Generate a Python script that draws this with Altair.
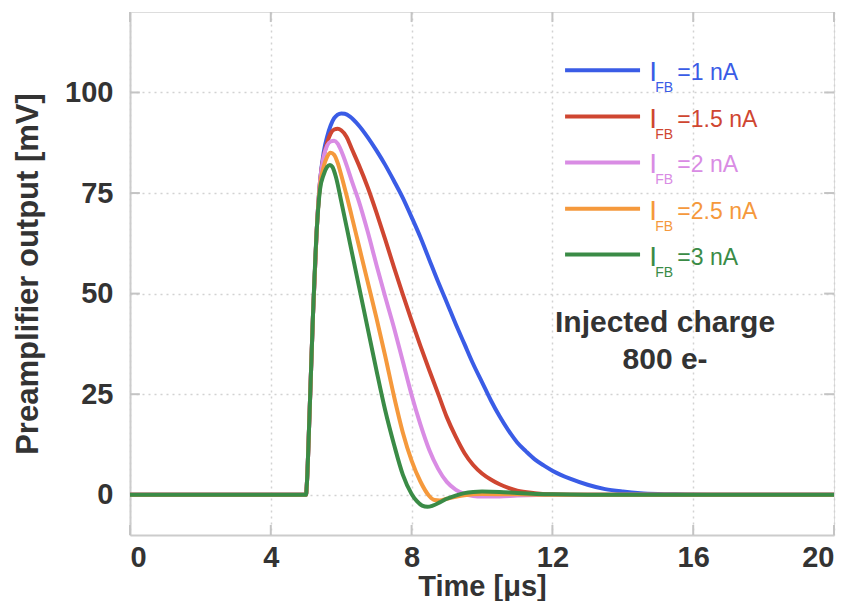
import altair as alt
import pandas as pd

# ---- data ----
series_names = ["1 nA", "1.5 nA", "2 nA", "2.5 nA", "3 nA"]
series_colors = ["#3a5ce6", "#cf4631", "#d98ce4", "#f5993c", "#3a8b46"]

t_1 = [0, 5.0, 5.02, 5.1, 5.2, 5.3, 5.4, 5.5, 5.6, 5.7, 5.8, 5.9, 6.0, 6.1, 6.25, 6.5, 6.75, 7.0,
       7.25, 7.5, 7.75, 8.0, 8.25, 8.5, 8.75, 9.0, 9.25, 9.5, 9.75, 10.0, 10.25, 10.5, 10.75, 11.0,
       11.25, 11.5, 11.75, 12.0, 12.5, 13.0, 13.5, 14.0, 14.5, 15.0, 15.5, 16.5, 20]
v_1 = [0, 0, 2, 20, 45, 65, 78, 85, 89, 91.8, 93.6, 94.5, 94.8, 94.7, 94.0, 91.8, 88.9, 85.6,
       82, 78, 73.8, 69, 64, 58.5, 53, 47.8, 42.5, 37.5, 32.5, 28, 23.5, 19.5, 16, 13,
       10.8, 8.8, 7.3, 6.0, 4.0, 2.5, 1.4, 0.8, 0.4, 0.2, 0.1, 0, 0]

t_15 = [0, 5.0, 5.02, 5.1, 5.2, 5.3, 5.4, 5.5, 5.6, 5.7, 5.8, 5.9, 6.0, 6.15, 6.3, 6.5, 6.75, 7.0,
        7.25, 7.5, 7.75, 8.0, 8.25, 8.5, 8.75, 9.0, 9.25, 9.5, 9.75, 10.0, 10.25, 10.5, 10.75,
        11.0, 11.5, 12.0, 12.5, 20]
v_15 = [0, 0, 2, 20, 45, 65, 78, 84, 87.5, 89.8, 90.8, 91, 90.6, 89, 86, 82, 76.5, 70.2,
        63.5, 56.5, 49.8, 43.3, 37.0, 31.0, 25.2, 19.3, 14.5, 10.4, 7.4, 5.3, 3.8, 2.6, 1.7,
        1.0, 0.4, 0.1, 0, 0]

t_2 = [0, 5.0, 5.02, 5.1, 5.2, 5.3, 5.4, 5.5, 5.6, 5.7, 5.8, 5.9, 6.0, 6.15, 6.3, 6.5, 6.75, 7.0,
       7.25, 7.5, 7.75, 8.0, 8.25, 8.5, 8.75, 9.0, 9.25, 9.5, 9.75, 10.0, 10.5, 11.0, 12.0, 20]
v_2 = [0, 0, 2, 20, 45, 65, 78, 84, 86.8, 87.8, 88, 87.3, 85.5, 82, 78, 73, 65.5, 57.2,
       49.2, 41.5, 33.2, 24.8, 17.5, 11.2, 6.5, 3.2, 1.3, 0.2, -0.3, -0.45, -0.4, -0.2, 0, 0]

t_25 = [0, 5.0, 5.02, 5.1, 5.2, 5.3, 5.4, 5.5, 5.6, 5.7, 5.8, 5.9, 6.0, 6.15, 6.3, 6.5, 6.75, 7.0,
        7.25, 7.5, 7.75, 8.0, 8.25, 8.5, 8.65, 8.8, 9.0, 9.25, 9.5, 10.0, 11.0, 12.0, 20]
v_25 = [0, 0, 2, 20, 45, 65, 77, 81.5, 84, 85, 84.5, 82.5, 79.5, 74.5, 69.2, 62, 53, 44,
        34.5, 24.5, 15.5, 8.5, 3.3, -0.3, -1.3, -1.4, -1.0, -0.5, -0.1, 0.2, 0.1, 0, 0]

t_3 = [0, 5.0, 5.02, 5.1, 5.2, 5.3, 5.4, 5.5, 5.6, 5.68, 5.75, 5.85, 6.0, 6.25, 6.5, 6.75, 7.0,
       7.25, 7.5, 7.75, 8.0, 8.15, 8.3, 8.45, 8.6, 8.8, 9.0, 9.25, 9.5, 9.75, 10.0, 10.5, 11.0,
       12.0, 13.0, 20]
v_3 = [0, 0, 2, 20, 45, 65, 76, 79.5, 81.5, 82, 81.5, 79, 73, 62.5, 52, 41.5, 31,
       21, 12.5, 5.0, 0.2, -1.6, -2.7, -3.0, -2.7, -1.9, -1.0, -0.2, 0.4, 0.7, 0.8, 0.7, 0.45,
       0.1, 0, 0]

x_ticks = [0, 4, 8, 12, 16, 20]
y_ticks = [0, 25, 50, 75, 100]
annotation_lines = ["Injected charge", "800 e-"]

# ---- build tables ----
all_t = [t_1, t_15, t_2, t_25, t_3]
all_v = [v_1, v_15, v_2, v_25, v_3]
rows = []
for k, (name, ts, vs) in enumerate(zip(series_names, all_t, all_v)):
    for i, (t, v) in enumerate(zip(ts, vs)):
        rows.append({"series": name, "order": k, "idx": i, "t": t, "v": v})
df = pd.DataFrame(rows)

X0, X1, Y0, Y1 = 0, 20, -10, 120

# legend rows (placed in data space, top-right)
leg_y = [105.5, 94.0, 82.6, 71.1, 59.7]
leg = pd.DataFrame({
    "series": series_names,
    "x0": [12.36] * 5, "x1": [14.49] * 5,
    "xi": [14.75] * 5, "xs": [14.92] * 5, "xr": [15.55] * 5,
    "y": leg_y,
    "rest": ["=" + s for s in series_names],
})
ann = pd.DataFrame({"x": [15.2, 15.2], "y": [42.8, 33.6], "text": annotation_lines})

# small inward tick marks on all four sides of the frame
yt = pd.DataFrame({"v": y_ticks})
xt = pd.DataFrame({"t": x_ticks})

FONT = "Liberation Sans"
xscale = alt.Scale(domain=[X0, X1], nice=False, zero=False)
yscale = alt.Scale(domain=[Y0, Y1], nice=False, zero=False)
cscale = alt.Scale(domain=series_names, range=series_colors)

axis_common = dict(
    labelFont=FONT, labelFontSize=29, labelFontWeight="bold", labelColor="#333333",
    titleFont=FONT, titleFontWeight="bold", titleColor="#333333",
    grid=True, gridColor="#d2d2d2", gridDash=[2, 4], gridWidth=1.5,
    domainColor="#cccccc", domainWidth=2, ticks=False,
)

lines = alt.Chart(df).mark_line(strokeWidth=4, interpolate="monotone").encode(
    x=alt.X("t:Q", scale=xscale,
            axis=alt.Axis(values=x_ticks, title="Time [μs]", labelPadding=8, titlePadding=0,
                          titleFontSize=29, **axis_common)),
    y=alt.Y("v:Q", scale=yscale,
            axis=alt.Axis(values=y_ticks, title="Preamplifier output [mV]", labelPadding=17,
                          titlePadding=20, titleFontSize=31, **axis_common)),
    color=alt.Color("series:N", scale=cscale, legend=None),
    order=alt.Order("order:Q"),
    detail="series:N",
)

tick_style = dict(color="#c4c4c4", strokeWidth=2)
tl = alt.Chart(yt).mark_rule(**tick_style).encode(
    y="v:Q", x=alt.datum(X0), x2=alt.datum(0.28))
tr = alt.Chart(yt).mark_rule(**tick_style).encode(
    y="v:Q", x=alt.datum(19.72), x2=alt.datum(X1))
tb = alt.Chart(xt).mark_rule(**tick_style).encode(
    x="t:Q", y=alt.datum(Y0), y2=alt.datum(-7.5))
tt = alt.Chart(xt).mark_rule(**tick_style).encode(
    x="t:Q", y=alt.datum(117.5), y2=alt.datum(Y1))

leg_lines = alt.Chart(leg).mark_rule(strokeWidth=4).encode(
    x="x0:Q", x2="x1:Q", y="y:Q",
    color=alt.Color("series:N", scale=cscale, legend=None),
)
leg_I = alt.Chart(leg).mark_text(text="I", font=FONT, fontSize=28, align="left",
                                 baseline="alphabetic", dy=11).encode(
    x="xi:Q", y="y:Q", color=alt.Color("series:N", scale=cscale, legend=None))
leg_FB = alt.Chart(leg).mark_text(text="FB", font=FONT, fontSize=14, align="left",
                                  baseline="alphabetic", dy=22).encode(
    x="xs:Q", y="y:Q", color=alt.Color("series:N", scale=cscale, legend=None))
leg_rest = alt.Chart(leg).mark_text(font=FONT, fontSize=23, align="left",
                                    baseline="alphabetic", dy=10).encode(
    x="xr:Q", y="y:Q", text="rest:N", color=alt.Color("series:N", scale=cscale, legend=None))

annot = alt.Chart(ann).mark_text(font=FONT, fontSize=30, fontWeight="bold", color="#333333",
                                 align="center", baseline="middle").encode(
    x="x:Q", y="y:Q", text="text:N")

chart = alt.layer(tl, tr, tb, tt, lines, leg_lines, leg_I, leg_FB, leg_rest, annot).properties(
    width=704, height=523,
    autosize=alt.AutoSizeParams(type="none"),
    padding={"left": 122, "top": 4, "right": 8, "bottom": 66},
).configure_view(stroke="#cccccc", strokeWidth=2).configure(background="white")

chart.save("out.html", embed_options={"renderer": "svg", "actions": False})
